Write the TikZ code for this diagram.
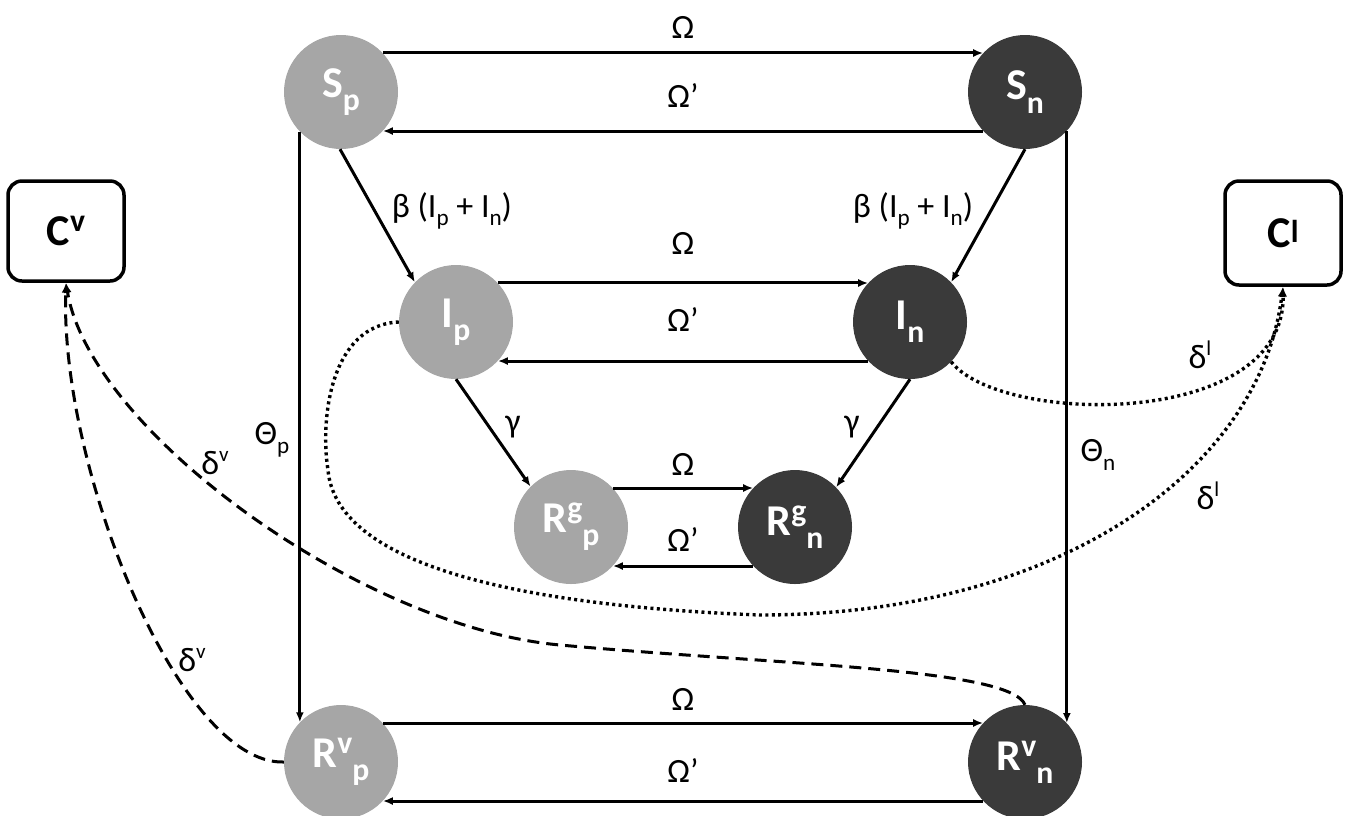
\documentclass[tikz,border=0pt]{standalone}
\usepackage{fontspec}
\usepackage{graphicx}
\setmainfont{Carlito}
\usetikzlibrary{arrows.meta}
\definecolor{lg}{HTML}{A6A6A6}
\definecolor{dg}{HTML}{3A3A3A}
\newcommand\lo[1]{\raisebox{-0.3em}{\scalebox{0.72}{#1}}}
\newcommand\hi[1]{\raisebox{0.32em}{\scalebox{0.72}{#1}}}
\newcommand\elo[1]{\raisebox{-0.25em}{\scalebox{0.68}{#1}}}
\newcommand\ehi[1]{\raisebox{0.38em}{\scalebox{0.62}{#1}}}
\begin{document}
\begin{tikzpicture}[x=1pt,y=-1pt,
  st/.style={circle, minimum size=114pt, inner sep=0pt, text=white, font=\fontsize{44}{44}\selectfont\bfseries},
  lite/.style={st, fill=lg},
  dark/.style={st, fill=dg},
  cbox/.style={draw, line width=3.5pt, rounded corners=14pt, minimum width=116pt, minimum height=100pt, font=\fontsize{44}{44}\selectfont\bfseries},
  arr/.style={line width=3pt, -{Latex[length=10pt,width=8pt]}},
  lbl/.style={font=\fontsize{34}{34}\selectfont, inner sep=0pt},
  dasharr/.style={line width=3pt, dash pattern=on 12pt off 7pt, -{Latex[length=10pt,width=8pt]}},
  dotarr/.style={line width=3.4pt, dash pattern=on 3pt off 3.4pt, -{Latex[length=10pt,width=8pt]}}
]
\useasboundingbox (0,0) rectangle (1348,815);

% nodes
\node[lite] (Sp) at (341,92) {S\lo{p}};
\node[dark] (Sn) at (1025,92) {S\lo{n}};
\node[lite] (Ip) at (456,322) {I\lo{p}};
\node[dark] (In) at (910,322) {I\lo{n}};
\node[lite] (Rgp) at (571,527) {R\hi{g}\lo{p}};
\node[dark] (Rgn) at (795,527) {R\hi{g}\lo{n}};
\node[lite] (Rvp) at (341,762) {R\hi{v}\lo{p}};
\node[dark] (Rvn) at (1025,762) {R\hi{v}\lo{n}};
\node[cbox] (Cv) at (66,231) {C\hi{v}};
\node[cbox, minimum height=104pt] (Cl) at (1283,233) {C\raisebox{0.12em}{\scalebox{0.72}{l}}};

% horizontal transitions
\draw[arr] (Sp.43) -- (Sn.137);
\draw[arr] (Sn.-137) -- (Sp.-43);
\draw[arr] (Ip.43) -- (In.137);
\draw[arr] (In.-137) -- (Ip.-43);
\draw[arr] (Rgp.43) -- (Rgn.137);
\draw[arr] (Rgn.-137) -- (Rgp.-43);
\draw[arr] (Rvp.43) -- (Rvn.137);
\draw[arr] (Rvn.-137) -- (Rvp.-43);

% vertical / diagonal transitions
\draw[arr] (Sp.-136) -- (Rvp.136);
\draw[arr] (Sn.-43) -- (Rvn.43);
\draw[arr] (Sp.-91) -- (Ip.136);
\draw[arr] (Sn.-90) -- (In.44);
\draw[arr] (Ip.-90) -- (Rgp.135);
\draw[arr] (In.-90) -- (Rgn.44);

% dotted curves to C^l
\draw[dotarr] (In.-44) .. controls (1000,425) and (1285,430) .. (Cl.south);
\draw[dotarr] (Ip.west) .. controls (330,325) and (320,420) .. (328,470)
  .. controls (336,560) and (500,605) .. (760,615)
  .. controls (1060,615) and (1260,470) .. (Cl.south);

% dashed curves to C^v
\draw[dasharr] (Rvp.west) .. controls (180,765) and (60,470) .. (Cv.south);
\draw[dasharr] (Rvn.north) .. controls (1010,668) and (780,665) .. (560,645)
  .. controls (360,627) and (90,430) .. (Cv.south);

% labels
\node[lbl] (l1) at (683,27) {Ω};
\node[lbl] (l2) at (683,96) {Ω’};
\node[lbl] (l3) at (683,243) {Ω};
\node[lbl] (l4) at (683,320) {Ω’};
\node[lbl] (l5) at (683,464) {Ω};
\node[lbl] (l6) at (683,540) {Ω’};
\node[lbl] (l7) at (683,699) {Ω};
\node[lbl] (l8) at (683,770) {Ω’};
\node[lbl] (b1) at (452,211) {β (I\elo{p} + I\elo{n})};
\node[lbl] (b2) at (913,211) {β (I\elo{p} + I\elo{n})};
\node[lbl] (g1) at (513,427) {γ};
\node[lbl] (g2) at (852,427) {γ};
\node[lbl] (t1) at (272,440) {Θ\elo{p}};
\node[lbl] (t2) at (1098,455) {Θ\elo{n}};
\node[lbl] (d1) at (215,463) {δ\ehi{v}};
\node[lbl] (d2) at (192,660) {δ\ehi{v}};
\node[lbl] (d3) at (1200,355) {δ\ehi{l}};
\node[lbl] (d4) at (1208,496) {δ\ehi{l}};
\end{tikzpicture}
\end{document}
